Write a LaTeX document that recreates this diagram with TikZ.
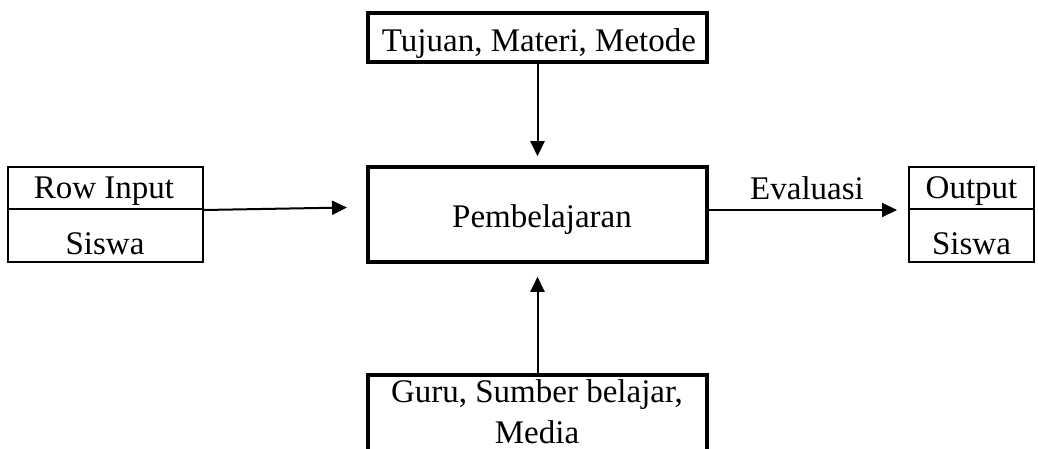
\documentclass[tikz,border=0pt]{standalone}
\usepackage{fontspec}
\setmainfont{Liberation Serif}
\usetikzlibrary{arrows.meta,calc}
\begin{document}
\begin{tikzpicture}[x=1pt,y=-1pt,
  thickbox/.style={draw, line width=3.5pt, inner sep=0pt},
  thinbox/.style={draw, line width=2pt, inner sep=0pt},
  conn/.style={line width=2pt, -{Triangle[length=15pt,width=14pt]}},
  lbl/.style={font=\fontsize{33}{41}\selectfont, anchor=base, inner sep=0pt}]
\useasboundingbox (0,0) rectangle (1038,449);
% boxes
\node[thickbox, minimum width=339pt, minimum height=49pt] (top) at (537.5,37.5) {};
\node[thickbox, minimum width=339pt, minimum height=95pt] (main) at (537.5,214.5) {};
\node[thickbox, minimum width=339pt, minimum height=120pt] (guru) at (537.5,435) {};
\node[thinbox, minimum width=195pt, minimum height=42pt] (rowin) at (105.5,188) {};
\node[thinbox, minimum width=195pt, minimum height=53pt] (sisin) at (105.5,235.5) {};
\node[thinbox, minimum width=125pt, minimum height=42pt] (outtop) at (971.5,188) {};
\node[thinbox, minimum width=125pt, minimum height=53pt] (outbot) at (971.5,235.5) {};
% texts
\node[lbl] (ttop) at (539,52) {Tujuan, Materi, Metode};
\node[lbl] (tmain) at (542,227) {Pembelajaran};
\node[lbl] (tguru1) at (537,402) {Guru, Sumber belajar,};
\node[lbl] (tguru2) at (537,443) {Media};
\node[lbl] (trow) at (104,199) {Row Input};
\node[lbl] (tsis1) at (105,254) {Siswa};
\node[lbl] (tout) at (971.5,199) {Output};
\node[lbl] (tsis2) at (971.5,254) {Siswa};
\node[lbl] (teval) at (807,200) {Evaluasi};
% connectors
\coordinate (inEnd) at (347,207.5);
\draw[conn] (rowin.south east) -- (inEnd);
\draw[conn, shorten >=9pt] (top.south) -- (main.north);
\draw[conn, shorten >=13pt] (guru.north) -- (main.south);
\draw[conn, shorten >=11pt] (main.east |- outtop.south) -- (outtop.south west);
\end{tikzpicture}
\end{document}
